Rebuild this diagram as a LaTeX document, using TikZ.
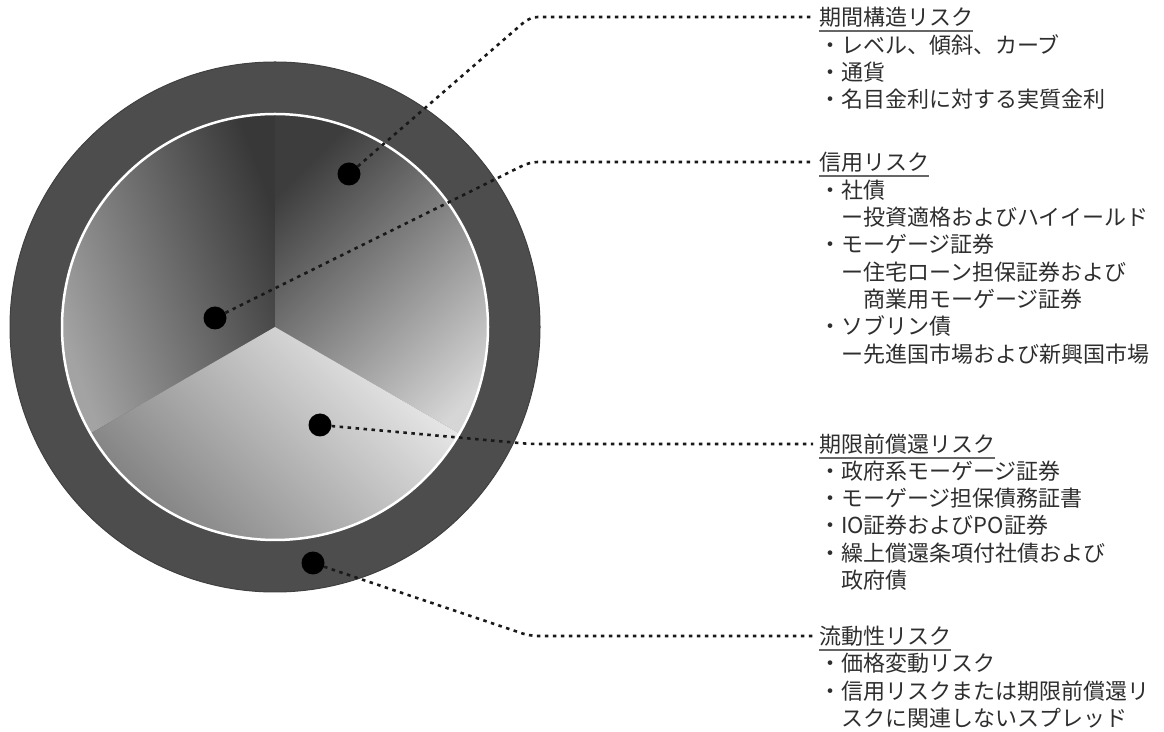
\documentclass[tikz,border=0pt]{standalone}
\usepackage{fontspec}
\setmainfont{Noto Sans CJK JP}
\usetikzlibrary{positioning}
\definecolor{ringgray}{HTML}{4D4D4D}
\definecolor{txtgray}{HTML}{2E2E2E}
\tikzset{
  riskdot/.style={circle,fill=black,minimum size=23pt,inner sep=0pt},
  leader/.style={line width=2.6pt,dash pattern=on 3.5pt off 4.5pt,black!90,rounded corners=8pt},
  risktitle/.style={anchor=west,inner sep=0pt,font=\fontsize{22}{27.3}\selectfont,text=txtgray},
  riskbody/.style={anchor=base west,inner sep=0pt,font=\fontsize{22}{27.3}\selectfont,text=txtgray},
  uline/.style={line width=1.8pt,black!60},
}

\begin{document}
\begin{tikzpicture}[x=1pt,y=1pt]
\useasboundingbox (0,0) rectangle (1164,731);
\coordinate (c) at (275,404);

% ring and the three inner sectors
\fill[ringgray,draw=black!75,line width=1pt] (c) circle [radius=265pt];
\shade[left color=black!36,right color=black!78,shading angle=110]
  (c) -- ++(90:213pt) arc [start angle=90,end angle=210,radius=213pt] -- cycle;
\shade[left color=black!76,right color=black!16,shading angle=45]
  (c) -- ++(-30:213pt) arc [start angle=-30,end angle=90,radius=213pt] -- cycle;
\shade[left color=black!52,right color=black!8,shading angle=135]
  (c) -- ++(210:213pt) arc [start angle=210,end angle=330,radius=213pt] -- cycle;
\draw[white,line width=2.5pt] (c) circle [radius=213pt];

% dots
\node[riskdot] (d1) at (349,557) {};
\node[riskdot] (d2) at (215,413) {};
\node[riskdot] (d3) at (320,306) {};
\node[riskdot] (d4) at (313,168) {};

% titles
\node[risktitle] (t1) at (819,714) {期間構造リスク};
\node[risktitle] (t2) at (819,569) {信用リスク};
\node[risktitle] (t3) at (819,287) {期限前償還リスク};
\node[risktitle] (t4) at (819,95) {流動性リスク};
\foreach \t in {t1,t2,t3,t4}
  \draw[uline] ([yshift=-6pt]\t.base west) -- ([yshift=-6pt]\t.base east);

% items
\node[riskbody] (b1) at ([yshift=-28pt]t1.base west) {\begin{tabular}[t]{@{}l@{}}
・レベル、傾斜、カーブ\\
・通貨\\
・名目金利に対する実質金利
\end{tabular}};
\node[riskbody] (b2) at ([yshift=-28pt]t2.base west) {\begin{tabular}[t]{@{}l@{}}
・社債\\
　ー投資適格およびハイイールド\\
・モーゲージ証券\\
　ー住宅ローン担保証券および\\
　　商業用モーゲージ証券\\
・ソブリン債\\
　ー先進国市場および新興国市場
\end{tabular}};
\node[riskbody] (b3) at ([yshift=-27pt]t3.base west) {\begin{tabular}[t]{@{}l@{}}
・政府系モーゲージ証券\\
・モーゲージ担保債務証書\\
・IO証券およびPO証券\\
・繰上償還条項付社債および\\
　政府債
\end{tabular}};
\node[riskbody] (b4) at ([yshift=-27.5pt]t4.base west) {\begin{tabular}[t]{@{}l@{}}
・価格変動リスク\\
・信用リスクまたは期限前償還リ\\
　スクに関連しないスプレッド
\end{tabular}};

% leaders
\coordinate (k1) at (530,714);
\coordinate (k2) at (530,569);
\coordinate (k3) at (530,287);
\coordinate (k4) at (530,95);
\draw[leader,shorten >=6pt] (d1) -- (k1) -- (t1.west);
\draw[leader,shorten >=6pt] (d2) -- (k2) -- (t2.west);
\draw[leader,shorten >=6pt] (d3) -- (k3) -- (t3.west);
\draw[leader,shorten >=6pt] (d4) -- (k4) -- (t4.west);
\end{tikzpicture}
\end{document}
